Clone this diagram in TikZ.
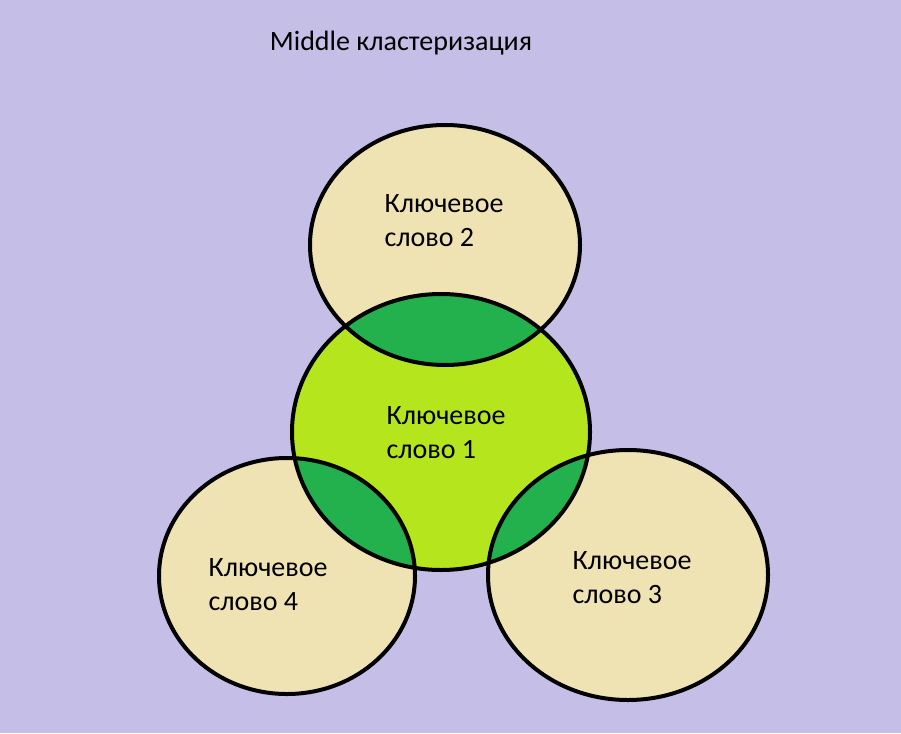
\documentclass[tikz,border=0pt]{standalone}
\usepackage{fontspec}
\setmainfont{Carlito}
\definecolor{bg}{HTML}{C5BEE6}
\definecolor{beige}{HTML}{EFE3B4}
\definecolor{lime}{HTML}{B5E61D}
\definecolor{dgreen}{HTML}{22B14C}
\begin{document}
\begin{tikzpicture}[x=1pt,y=-1pt,
  lbl/.style={font=\fontsize{28}{34}\selectfont, align=left},
  outline/.style={draw=black, line width=4pt}]
\fill[bg] (0,0) rectangle (901,733);
\useasboundingbox (0,0) rectangle (901,733);
\node[lbl] (title) at (401,43) {Middle кластеризация};
% fills
\fill[beige] (445,245) ellipse [x radius=135, y radius=120];
\fill[beige] (287,576) ellipse [x radius=128, y radius=118];
\fill[beige] (628,575) ellipse [x radius=140, y radius=125];
\fill[lime] (441,432) ellipse [x radius=149, y radius=138];
\begin{scope}
\clip (441,432) ellipse [x radius=149, y radius=138];
\fill[dgreen] (445,245) ellipse [x radius=135, y radius=120];
\fill[dgreen] (287,576) ellipse [x radius=128, y radius=118];
\fill[dgreen] (628,575) ellipse [x radius=140, y radius=125];
\end{scope}
\draw[outline] (445,245) ellipse [x radius=135, y radius=120];
\draw[outline] (287,576) ellipse [x radius=128, y radius=118];
\draw[outline] (628,575) ellipse [x radius=140, y radius=125];
\draw[outline] (441,432) ellipse [x radius=149, y radius=138];
\node[lbl] (k2) at (444,221) {Ключевое\\слово 2};
\node[lbl] (k1) at (446,433) {Ключевое\\слово 1};
\node[lbl] (k4) at (268,585) {Ключевое\\слово 4};
\node[lbl] (k3) at (632,578) {Ключевое\\слово 3};
\end{tikzpicture}
\end{document}
